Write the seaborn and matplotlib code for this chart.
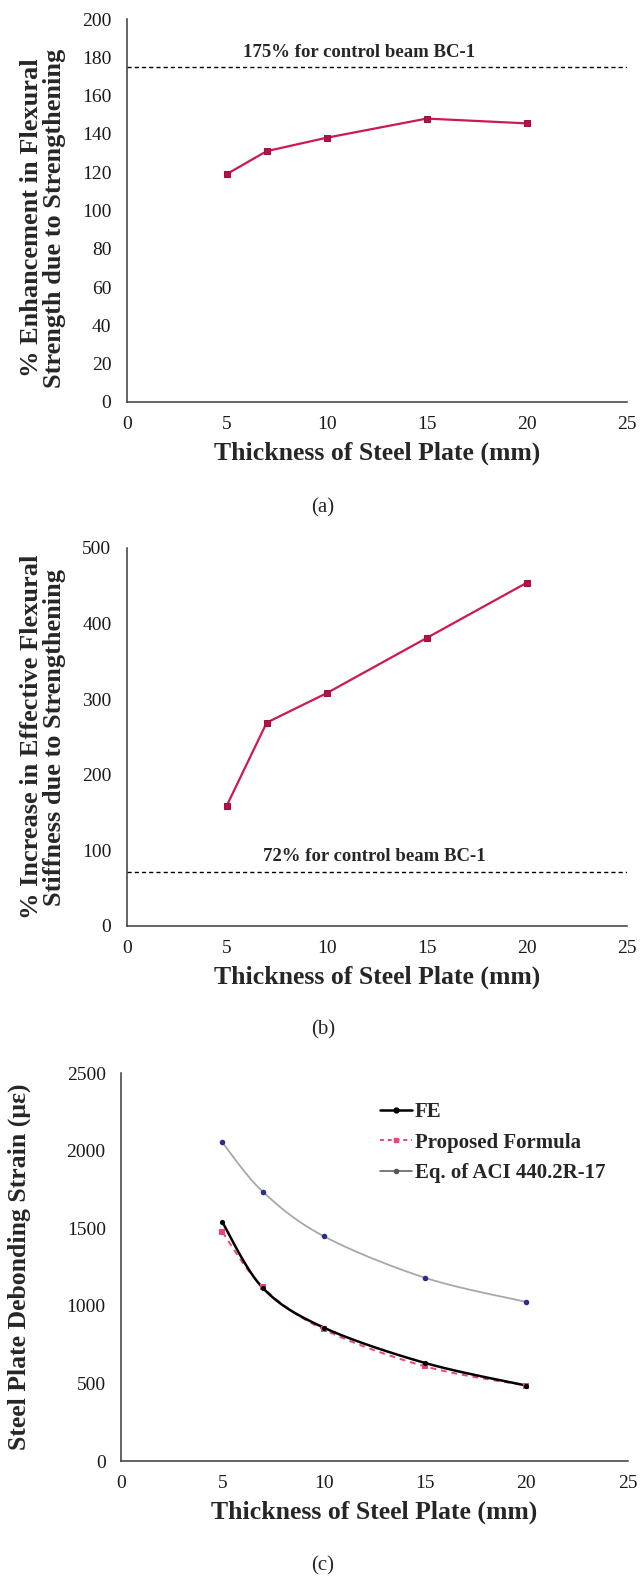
import numpy as np
import pandas as pd
import matplotlib
matplotlib.use("Agg")
import matplotlib.pyplot as plt
import seaborn as sns
from matplotlib.lines import Line2D

# Plate thickness (mm) and measured responses
thickness = [5, 7, 10, 15, 20]
strength_gain = [119, 131, 138, 148, 145.5]      # % enhancement in flexural strength
stiffness_gain = [159, 269, 308, 381, 454]       # % increase in effective flexural stiffness
control_strength = 175
control_stiffness = 72
strain_fe = [1539, 1115, 860, 632, 486]          # debonding strain, FE
strain_proposed = [1475, 1120, 848, 610, 486]    # debonding strain, proposed formula
strain_aci = [2053, 1735, 1449, 1181, 1025]      # debonding strain, ACI 440.2R-17
x_ticks = [0, 5, 10, 15, 20, 25]

sns.set_theme(style="white")
plt.rcParams["font.family"] = ["Liberation Serif", "DejaVu Serif"]

W, H = 641, 1583
fig = plt.figure(figsize=(W / 100, H / 100), dpi=100)

CRIMSON = "#CC1A50"
AXIS_COLOR = "#3a3a3a"
TICK_FS = 14
LABEL_FS = 18.5
YLABEL_FS = 19


def px_axes(left, top, right, bottom):
    return fig.add_axes([left / W, 1 - bottom / H, (right - left) / W, (bottom - top) / H])


def style(ax, ymax, ystep):
    ax.set_xlim(0, 25)
    ax.set_ylim(0, ymax)
    ax.set_xticks(x_ticks)
    ax.set_yticks(np.arange(0, ymax + 1, ystep))
    for side in ("top", "right"):
        ax.spines[side].set_visible(False)
    for side in ("left", "bottom"):
        ax.spines[side].set_color(AXIS_COLOR)
        ax.spines[side].set_linewidth(1.1)
    ax.tick_params(axis="both", which="major", direction="out", length=4, width=1,
                   color=AXIS_COLOR, labelsize=TICK_FS, labelcolor="#1a1a1a")
    ax.tick_params(axis="y", pad=7)
    ax.tick_params(axis="x", pad=6)
    ax.set_xlabel("Thickness of Steel Plate (mm)", fontsize=LABEL_FS, fontweight="bold", labelpad=6)
    ax.grid(False)
    ax.set_facecolor("white")


def smooth(xs, ys, n=30):
    """Bezier smoothing through the points (Catmull-Rom style control points)."""
    p = np.column_stack([xs, ys]).astype(float)
    ext = np.vstack([p[0], p, p[-1]])
    out = []
    t = np.linspace(0, 1, n)[:, None]
    for i in range(len(p) - 1):
        p0, p1 = ext[i + 1], ext[i + 2]
        c1 = p0 + (ext[i + 2] - ext[i]) / 6.0
        c2 = p1 - (ext[i + 3] - ext[i + 1]) / 6.0
        seg = ((1 - t) ** 3) * p0 + 3 * ((1 - t) ** 2) * t * c1 + 3 * (1 - t) * t ** 2 * c2 + t ** 3 * p1
        out.append(seg if i == 0 else seg[1:])
    c = np.vstack(out)
    return c[:, 0], c[:, 1]


# ---------------- (a) flexural strength ----------------
ax_a = px_axes(126.7, 19, 626.7, 402)
style(ax_a, 200, 20)
sns.lineplot(x=thickness, y=strength_gain, ax=ax_a, color=CRIMSON, lw=1.6,
             marker="s", markersize=4.5, markeredgecolor="#A01040", markerfacecolor="#B3124A")
ax_a.axhline(control_strength, color="black", ls=(0, (3, 2.2)), lw=1.0)
ax_a.text(11.6, 182.5, f"{control_strength}% for control beam BC-1", ha="center", va="center",
          fontsize=13.5, fontweight="bold")
ax_a.set_ylabel("% Enhancement in Flexural\nStrength due to Strengthening",
                fontsize=YLABEL_FS, fontweight="bold", linespacing=1.0)
ax_a.yaxis.set_label_coords(-0.122, 0.48)
fig.text(323 / W, 1 - 508 / H, "(a)", ha="center", va="center", fontsize=15)

# ---------------- (b) flexural stiffness ----------------
ax_b = px_axes(126.7, 548, 626.7, 926)
style(ax_b, 500, 100)
sns.lineplot(x=thickness, y=stiffness_gain, ax=ax_b, color=CRIMSON, lw=1.6,
             marker="s", markersize=4.5, markeredgecolor="#A01040", markerfacecolor="#B3124A")
ax_b.axhline(control_stiffness, color="black", ls=(0, (3, 2.2)), lw=1.0)
ax_b.text(12.4, 92, f"{control_stiffness}% for control beam BC-1", ha="center", va="center",
          fontsize=13.5, fontweight="bold")
ax_b.set_ylabel("% Increase in Effective Flexural\nStiffness due to Strengthening",
                fontsize=YLABEL_FS, fontweight="bold", linespacing=1.0)
ax_b.yaxis.set_label_coords(-0.122, 0.5)
fig.text(323 / W, 1 - 1030 / H, "(b)", ha="center", va="center", fontsize=15)

# ---------------- (c) debonding strain ----------------
ax_c = px_axes(121, 1073, 627.5, 1461)
style(ax_c, 2500, 500)

ACI_LINE = "#a8a8a8"
ACI_MARK = "#2b2f86"
PROP_COLOR = "#EE4477"

sx, sy = smooth(thickness, strain_aci)
sns.lineplot(x=sx, y=sy, ax=ax_c, sort=False, estimator=None, color=ACI_LINE, lw=1.3)
sns.scatterplot(x=thickness, y=strain_aci, ax=ax_c, color=ACI_MARK, s=16, linewidth=0, zorder=4)

sx, sy = smooth(thickness, strain_proposed)
sns.lineplot(x=sx, y=sy, ax=ax_c, sort=False, estimator=None, color=PROP_COLOR, lw=1.4,
             ls=(0, (3, 2.5)))
sns.scatterplot(x=thickness, y=strain_proposed, ax=ax_c, color=PROP_COLOR, marker="s", s=14,
                linewidth=0, zorder=4)

sx, sy = smooth(thickness, strain_fe)
sns.lineplot(x=sx, y=sy, ax=ax_c, sort=False, estimator=None, color="black", lw=1.8)
sns.scatterplot(x=thickness, y=strain_fe, ax=ax_c, color="black", s=14, linewidth=0, zorder=5)

handles = [
    Line2D([], [], color="black", lw=1.8, marker="o", markersize=3.5),
    Line2D([], [], color=PROP_COLOR, lw=1.4, ls=(0, (2, 2)), marker="s", markersize=3.5),
    Line2D([], [], color="#555555", lw=1.1, marker="o", markersize=3),
]
labels = ["FE", "Proposed Formula", "Eq. of ACI 440.2R-17"]
leg = ax_c.legend(handles, labels, loc="upper left", bbox_to_anchor=(0.512, 0.925),
                  frameon=False, borderpad=0, borderaxespad=0, handlelength=1.5,
                  handletextpad=0.15, labelspacing=0.5,
                  prop={"size": 15, "weight": "bold", "family": "Liberation Serif"})
ax_c.set_ylabel("Steel Plate Debonding Strain (\u03bc\u03b5)", fontsize=LABEL_FS,
                fontweight="bold")
ax_c.yaxis.set_label_coords(-0.178, 0.5)
fig.text(323 / W, 1 - 1566 / H, "(c)", ha="center", va="center", fontsize=15)

fig.savefig("out.png", dpi=100, facecolor="white")
